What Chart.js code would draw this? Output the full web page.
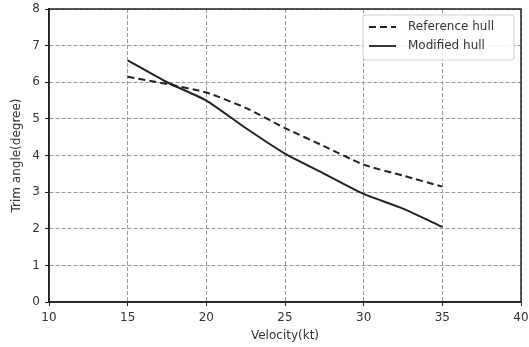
<!DOCTYPE html>
<html>
<head>
<meta charset="utf-8">
<script src="https://cdn.jsdelivr.net/npm/chart.js@4"></script>
<style>
  html, body { margin: 0; padding: 0; background: #fff; }
  #wrap { width: 529px; height: 347px; }
</style>
</head>
<body>
<div id="wrap"><canvas id="trim-chart"></canvas></div>
<script>
// Data
const velocity = [15, 17.5, 20, 22.5, 25, 27.5, 30, 32.5, 35];
const referenceHull = [6.15, 5.95, 5.72, 5.3, 4.75, 4.25, 3.75, 3.45, 3.15];
const modifiedHull = [6.6, 6.0, 5.5, 4.75, 4.05, 3.5, 2.95, 2.55, 2.05];
const xTicks = [10, 15, 20, 25, 30, 35, 40];
const yTicks = [0, 1, 2, 3, 4, 5, 6, 7, 8];

const textColor = "#333";
const gridColor = "#9a9a9a";

// box frame + legend in upper right
const framePlugin = {
  id: "frame",
  afterDraw(chart) {
    const { ctx, chartArea: a } = chart;
    ctx.save();
    ctx.strokeStyle = "#222";
    ctx.lineWidth = 1.5;
    ctx.strokeRect(a.left, a.top, a.right - a.left, a.bottom - a.top);

    // legend
    const bx = a.right - 158, by = a.top + 6, bw = 151, bh = 45;
    ctx.fillStyle = "rgba(255,255,255,0.85)";
    ctx.strokeStyle = "#d0d0d0";
    ctx.lineWidth = 1;
    ctx.beginPath();
    ctx.roundRect(bx, by, bw, bh, 3);
    ctx.fill();
    ctx.stroke();
    ctx.font = "12px 'DejaVu Sans'";
    ctx.textBaseline = "middle";
    chart.data.datasets.forEach((ds, i) => {
      const y = by + 12 + i * 19;
      ctx.strokeStyle = "#222";
      ctx.lineWidth = 1.8;
      ctx.setLineDash(ds.borderDash || []);
      ctx.beginPath();
      ctx.moveTo(bx + 6, y);
      ctx.lineTo(bx + 33, y);
      ctx.stroke();
      ctx.setLineDash([]);
      ctx.fillStyle = textColor;
      ctx.fillText(ds.label, bx + 45, y);
    });
    ctx.restore();
  },
};

new Chart(document.getElementById("trim-chart"), {
  type: "line",
  data: {
    datasets: [
      {
        label: "Reference hull",
        data: velocity.map((v, i) => ({ x: v, y: referenceHull[i] })),
        borderColor: "#222",
        borderWidth: 2,
        borderDash: [7, 4],
        pointRadius: 0,
        tension: 0.2,
      },
      {
        label: "Modified hull",
        data: velocity.map((v, i) => ({ x: v, y: modifiedHull[i] })),
        borderColor: "#222",
        borderWidth: 2,
        pointRadius: 0,
        tension: 0.2,
      },
    ],
  },
  options: {
    responsive: true,
    maintainAspectRatio: false,
    animation: false,
    layout: { padding: { top: 9, right: 8, left: 0, bottom: 0 } },
    plugins: {
      legend: { display: false },
      tooltip: { enabled: false },
    },
    scales: {
      x: {
        type: "linear",
        min: 10,
        max: 40,
        afterBuildTicks: (s) => { s.ticks = xTicks.map((v) => ({ value: v })); },
        afterFit: (s) => { s.height = 45; s.paddingLeft = 0; s.paddingRight = 0; },
        ticks: { color: textColor, font: { size: 12, family: "DejaVu Sans" }, padding: 5 },
        grid: { color: gridColor, tickLength: 4, tickColor: "#222" },
        border: { display: true, color: "#222", width: 1.5, dash: [4, 2] },
        title: {
          display: true,
          text: "Velocity(kt)",
          color: textColor,
          font: { size: 12, family: "DejaVu Sans" },
          padding: { top: 2 },
        },
      },
      y: {
        min: 0,
        max: 8,
        afterBuildTicks: (s) => { s.ticks = yTicks.map((v) => ({ value: v })); },
        afterFit: (s) => { s.width = 49; s.paddingTop = 0; s.paddingBottom = 0; },
        ticks: { color: textColor, font: { size: 12, family: "DejaVu Sans" }, padding: 5 },
        grid: { color: gridColor, tickLength: 4, tickColor: "#222" },
        border: { display: true, color: "#222", width: 1.5, dash: [4, 2] },
        title: {
          display: true,
          text: "Trim angle(degree)",
          color: textColor,
          font: { size: 12, family: "DejaVu Sans" },
          padding: { top: 10, bottom: 0 },
        },
      },
    },
  },
  plugins: [framePlugin],
});
</script>
</body>
</html>
